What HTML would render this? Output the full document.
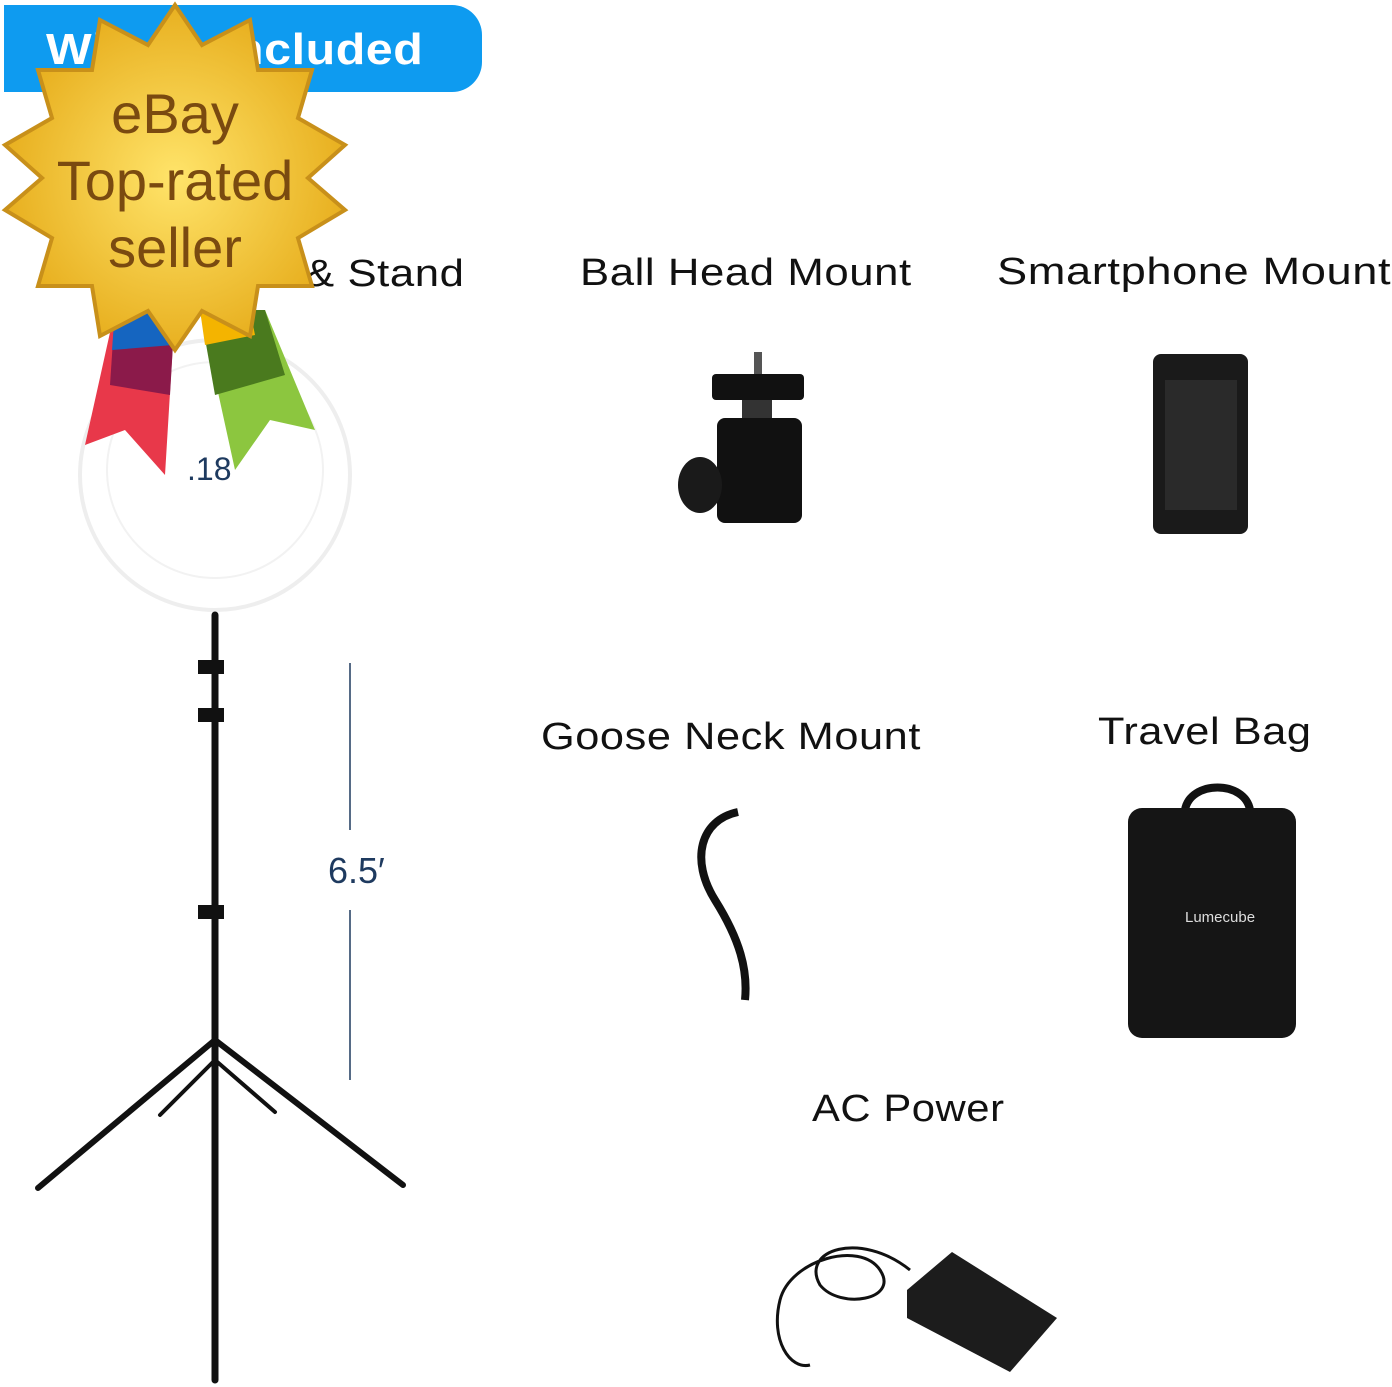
<!DOCTYPE html>
<html><head><meta charset="utf-8"><style>
html,body{margin:0;padding:0;background:#fff;}
body{width:1392px;height:1387px;position:relative;overflow:hidden;font-family:"Liberation Sans",sans-serif;}
.t{position:absolute;font-size:38px;color:#111;white-space:nowrap;letter-spacing:0.5px;transform-origin:0 0;}
</style></head><body>
<div style="position:absolute;left:4px;top:5px;width:478px;height:87px;background:#0e9bf0;border-radius:0 30px 30px 0;"></div>
<div class="t" style="left:46px;top:25px;color:#fff;font-size:44px;font-weight:bold;transform:scaleX(1.1);">What's Included</div>

<div class="t" style="left:305px;top:253px;transform:scaleX(1.15);">&amp; Stand</div>
<div class="t" style="left:580px;top:252px;transform:scaleX(1.15);">Ball Head Mount</div>
<div class="t" style="left:997px;top:251px;transform:scaleX(1.19);">Smartphone Mount</div>
<div class="t" style="left:541px;top:716px;transform:scaleX(1.14);">Goose Neck Mount</div>
<div class="t" style="left:1098px;top:711px;transform:scaleX(1.14);">Travel Bag</div>
<div class="t" style="left:812px;top:1088px;transform:scaleX(1.1);">AC Power</div>

<svg width="1392" height="1387" style="position:absolute;left:0;top:0" xmlns="http://www.w3.org/2000/svg">
<defs><radialGradient id="g" cx="50%" cy="50%" r="50%"><stop offset="0" stop-color="#ffe46a"/><stop offset="1" stop-color="#e8b020"/></radialGradient></defs>
<circle cx="215" cy="475" r="135" fill="#fff" stroke="#eee" stroke-width="4"/>
<circle cx="215" cy="470" r="108" fill="#fff" stroke="#f2f2f2" stroke-width="2"/>
<text x="187" y="480" font-family="Liberation Sans" font-size="32" fill="#1e3a5f">.18</text>
<g stroke="#111" fill="none" stroke-linecap="round">
<line x1="215" y1="615" x2="215" y2="1380" stroke-width="7"/>
<line x1="215" y1="1040" x2="38" y2="1188" stroke-width="6"/>
<line x1="215" y1="1040" x2="403" y2="1185" stroke-width="6"/>
<line x1="215" y1="1060" x2="160" y2="1115" stroke-width="4"/>
<line x1="215" y1="1060" x2="275" y2="1112" stroke-width="4"/>
</g>
<rect x="198" y="660" width="26" height="14" fill="#111"/>
<rect x="198" y="708" width="26" height="14" fill="#111"/>
<rect x="198" y="905" width="26" height="14" fill="#111"/>
<line x1="350" y1="663" x2="350" y2="830" stroke="#1e3a5f" stroke-width="1.5"/>
<line x1="350" y1="910" x2="350" y2="1080" stroke="#1e3a5f" stroke-width="1.5"/>
<text x="328" y="883" font-family="Liberation Sans" font-size="36" fill="#1e3a5f">6.5′</text>
<rect x="754" y="352" width="8" height="25" fill="#555"/>
<rect x="712" y="374" width="92" height="26" rx="4" fill="#111"/>
<rect x="742" y="400" width="30" height="20" fill="#333"/>
<rect x="717" y="418" width="85" height="105" rx="8" fill="#111"/>
<ellipse cx="700" cy="485" rx="22" ry="28" fill="#1a1a1a"/>
<rect x="1153" y="354" width="95" height="180" rx="8" fill="#1a1a1a"/>
<rect x="1165" y="380" width="72" height="130" fill="#2a2a2a"/>
<path d="M738 812 C700 820 690 860 715 900 C740 940 748 970 745 1000" stroke="#111" stroke-width="8" fill="none"/>
<path d="M1185 810 C1190 780 1245 780 1250 810" stroke="#111" stroke-width="8" fill="none"/>
<rect x="1128" y="808" width="168" height="230" rx="14" fill="#151515"/>
<text x="1185" y="922" font-family="Liberation Sans" font-size="15" fill="#ddd">Lumecube</text>
<path d="M910 1270 C860 1230 800 1250 820 1285 C840 1310 900 1300 880 1270 C860 1240 790 1260 780 1300 C770 1340 790 1370 810 1365" stroke="#111" stroke-width="3" fill="none"/>
<polygon points="907,1290 952,1252 1057,1318 1010,1372 907,1318" fill="#1c1c1c"/>
<polygon points="115,310 175,310 165,475 125,430 85,445" fill="#e8384a"/>
<polygon points="115,310 175,310 170,395 110,385" fill="#8b1a4a"/>
<polygon points="115,310 175,310 173,345 112,350" fill="#1565c0"/>
<polygon points="200,310 265,310 315,430 270,420 235,470" fill="#8cc63f"/>
<polygon points="200,310 265,310 285,375 215,395" fill="#4a7a1e"/>
<polygon points="200,310 250,310 255,335 205,345" fill="#f4b400"/>
<polygon fill="url(#g)" stroke="#c8901a" stroke-width="4" points="
175,5 202,45 250,20 258,70 312,70 298,118 345,145 308,178 345,210 298,238 312,286 258,286 250,336 202,311 175,350 148,311 100,336 92,286 38,286 52,238 5,210 42,178 5,145 52,118 38,70 92,70 100,20 148,45"/>
<text x="175" y="133" text-anchor="middle" font-family="Liberation Sans" font-size="56" fill="#7a4a10">eBay</text>
<text x="175" y="200" text-anchor="middle" font-family="Liberation Sans" font-size="56" fill="#7a4a10">Top-rated</text>
<text x="175" y="267" text-anchor="middle" font-family="Liberation Sans" font-size="56" fill="#7a4a10">seller</text>
</svg>
</body></html>
